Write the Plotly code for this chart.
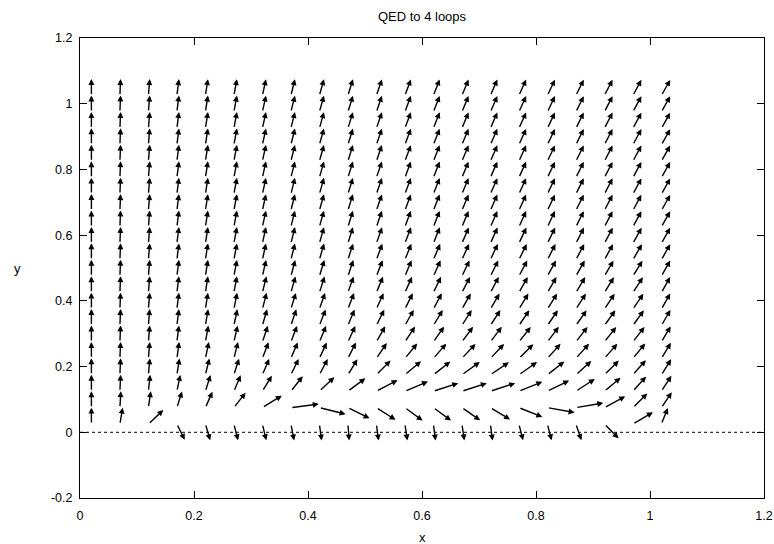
import math
import plotly.graph_objects as go

# ---- data -------------------------------------------------------------
chart_title = "QED to 4 loops"
x_grid = [0.02, 0.07, 0.12, 0.17, 0.22, 0.27, 0.32, 0.37, 0.42, 0.47, 0.52,
          0.57, 0.62, 0.67, 0.72, 0.77, 0.82, 0.87, 0.92, 0.97, 1.02]
y_grid = [0.025, 0.075, 0.125, 0.175, 0.225, 0.275, 0.325, 0.375, 0.425, 0.475, 0.525,
          0.575, 0.625, 0.675, 0.725, 0.775, 0.825, 0.875, 0.925, 0.975, 1.025]
arrow_length = 0.05

# direction (degrees, data space) of each vector; one list per x column, bottom row first
angles_by_column = [
    [90, 90, 90, 90, 90, 90, 90, 90, 90, 90, 90, 90, 90, 90, 90, 90, 90, 90, 90, 90, 90],
    [84.5, 88, 88.5, 88.6, 88.6, 88.6, 88.6, 88.6, 88.6, 88.6, 88.6, 88.6, 88.6, 88.6, 88.6, 88.6, 88.6, 88.6, 88.6, 88.6, 88.6],
    [58.5, 85.2, 86.5, 87, 87.3, 87.3, 87.3, 87.3, 87.3, 87.3, 87.3, 87.3, 87.3, 87.3, 87.3, 87.3, 87.3, 87.3, 87.3, 87.3, 87.3],
    [-74.1, 79.6, 83.1, 84.8, 85.5, 85.9, 85.9, 85.9, 85.9, 85.9, 85.9, 85.9, 85.9, 85.9, 85.9, 85.9, 85.9, 85.9, 85.9, 85.9, 85.9],
    [-80.3, 75.7, 79.6, 82, 83, 84, 84.5, 84.9, 84.9, 84.9, 84.9, 84.9, 84.9, 84.9, 84.9, 84.9, 84.9, 84.9, 84.9, 84.9, 84.9],
    [-81.6, 65.8, 76.2, 79.6, 81.7, 82.5, 83, 83.5, 83.9, 83.9, 83.9, 83.9, 83.9, 83.9, 83.9, 83.9, 83.9, 83.9, 83.9, 83.9, 83.9],
    [-82.2, 47.0, 70.6, 76.2, 77.6, 79, 80.5, 81.5, 82, 82.5, 82.8, 82.8, 82.8, 82.8, 82.8, 82.8, 82.8, 82.8, 82.8, 82.8, 82.8],
    [-83.5, 12.4, 65.5, 74.3, 76.2, 77.5, 79, 80, 80.8, 81.3, 81.8, 81.8, 81.8, 81.8, 81.8, 81.8, 81.8, 81.8, 81.8, 81.8, 81.8],
    [-85.5, -23.3, 58.4, 73.1, 75.1, 76.5, 77.5, 78.5, 79.5, 80, 80.5, 80.8, 80.8, 80.8, 80.8, 80.8, 80.8, 80.8, 80.8, 80.8, 80.8],
    [-87.4, -40.7, 52.1, 70.6, 73.7, 75, 76.5, 77.5, 78.5, 79, 79.5, 79.8, 79.8, 79.8, 79.8, 79.8, 79.8, 79.8, 79.8, 79.8, 79.8],
    [-85.7, -47.9, 42.2, 60.2, 68.7, 72, 74, 75.5, 76.5, 77.5, 78, 78.5, 78.8, 78.8, 78.8, 78.8, 78.8, 78.8, 78.8, 78.8, 78.8],
    [-85.0, -51.7, 36.0, 55.4, 64.4, 69, 72, 74, 75.5, 76.5, 77, 77.5, 77.9, 77.9, 77.9, 77.9, 77.9, 77.9, 77.9, 77.9, 77.9],
    [-85.7, -51.7, 29.4, 53.6, 63.3, 68, 71, 73, 74.5, 75.5, 76.3, 77, 77.3, 77.3, 77.3, 77.3, 77.3, 77.3, 77.3, 77.3, 77.3],
    [-85.0, -50.2, 29.1, 51.1, 61.4, 67, 70, 72, 73.5, 74.5, 75.5, 76, 76.5, 76.5, 76.5, 76.5, 76.5, 76.5, 76.5, 76.5, 76.5],
    [-85.7, -46.3, 29.4, 49.5, 61.4, 66.5, 69.5, 71.5, 73, 74, 75, 75.5, 75.9, 75.9, 75.9, 75.9, 75.9, 75.9, 75.9, 75.9, 75.9],
    [-81.6, -34.9, 34.8, 50.5, 59.6, 65.5, 68.5, 70.5, 72, 73, 74, 74.8, 75.3, 75.3, 75.3, 75.3, 75.3, 75.3, 75.3, 75.3, 75.3],
    [-81.6, -17.5, 40.3, 53.6, 62.5, 66.5, 68.5, 70, 71.5, 72.5, 73.5, 74.2, 74.6, 74.6, 74.6, 74.6, 74.6, 74.6, 74.6, 74.6, 74.6],
    [-78.9, 16.3, 48.4, 57.2, 62.5, 66, 68, 69.5, 71, 72, 73, 73.6, 74, 74, 74, 74, 74, 74, 74, 74, 74],
    [-60.2, 43.2, 55.4, 59.6, 63, 65.5, 67.5, 69, 70.5, 71.5, 72.3, 73, 73.4, 73.4, 73.4, 73.4, 73.4, 73.4, 73.4, 73.4, 73.4],
    [45.6, 59.7, 62.6, 63, 64.5, 66, 67.5, 68.5, 69.5, 70.5, 71.5, 72.2, 72.7, 72.7, 72.7, 72.7, 72.7, 72.7, 72.7, 72.7, 72.7],
    [77.0, 68.7, 69.5, 70, 70.5, 71, 71.5, 72, 72, 72, 72, 72, 72, 72, 72, 72, 72, 72, 72, 72, 72],
]

x_tick_values = [0, 0.2, 0.4, 0.6, 0.8, 1.0, 1.2]
x_tick_labels = ["0", "0.2", "0.4", "0.6", "0.8", "1", "1.2"]
y_tick_values = [-0.2, 0, 0.2, 0.4, 0.6, 0.8, 1.0, 1.2]
y_tick_labels = ["-0.2", "0", "0.2", "0.4", "0.6", "0.8", "1", "1.2"]
zero_line_x = [0, 1.2]
zero_line_y = [0, 0]

# ---- figure -----------------------------------------------------------
FONT = "Liberation Sans, Arial, sans-serif"
fig = go.Figure()

fig.add_trace(go.Scatter(
    x=zero_line_x, y=zero_line_y, mode="lines",
    line=dict(color="black", width=1, dash="dot"),
    hoverinfo="skip", showlegend=False,
))

annotations = []
for i, x0 in enumerate(x_grid):
    for j, y0 in enumerate(y_grid):
        a = math.radians(angles_by_column[i][j])
        x1 = x0 + arrow_length * math.cos(a)
        y1 = y0 + arrow_length * math.sin(a)
        annotations.append(dict(
            x=x1, y=y1, ax=x0, ay=y0,
            xref="x", yref="y", axref="x", ayref="y",
            text="", showarrow=True, arrowhead=2, arrowsize=0.85,
            arrowwidth=1.4, arrowcolor="black", standoff=0, startstandoff=0,
        ))

annotations.append(dict(text="y", x=-0.092, y=0.5, xref="paper", yref="paper",
                        showarrow=False, xanchor="center", yanchor="middle",
                        font=dict(family=FONT, size=13, color="black")))
annotations.append(dict(text="x", x=0.5, y=-0.085, xref="paper", yref="paper",
                        showarrow=False, xanchor="center", yanchor="middle",
                        font=dict(family=FONT, size=13, color="black")))

axis_common = dict(
    showgrid=False, zeroline=False, showline=True, linecolor="black",
    linewidth=1, mirror="ticks", ticks="inside", ticklen=7, tickwidth=1,
    tickcolor="black", tickfont=dict(family=FONT, size=12.5, color="black"),
    ticklabeloverflow="allow", automargin=False,
)

fig.update_layout(
    width=774, height=544,
    margin=dict(l=80, r=10, t=38, b=46, autoexpand=False),
    paper_bgcolor="white", plot_bgcolor="white",
    title=dict(text=chart_title, x=0.5, xref="paper", y=1 - 16 / 544,
               yref="container", xanchor="center", yanchor="middle",
               font=dict(family=FONT, size=13, color="black")),
    xaxis=dict(range=[0, 1.2], tickvals=x_tick_values, ticktext=x_tick_labels,
               ticklabelstandoff=6, **axis_common),
    yaxis=dict(range=[-0.2, 1.2], tickvals=y_tick_values, ticktext=y_tick_labels,
               ticklabelstandoff=4, **axis_common),
    annotations=annotations,
    showlegend=False,
)

fig.write_html("out.html")
